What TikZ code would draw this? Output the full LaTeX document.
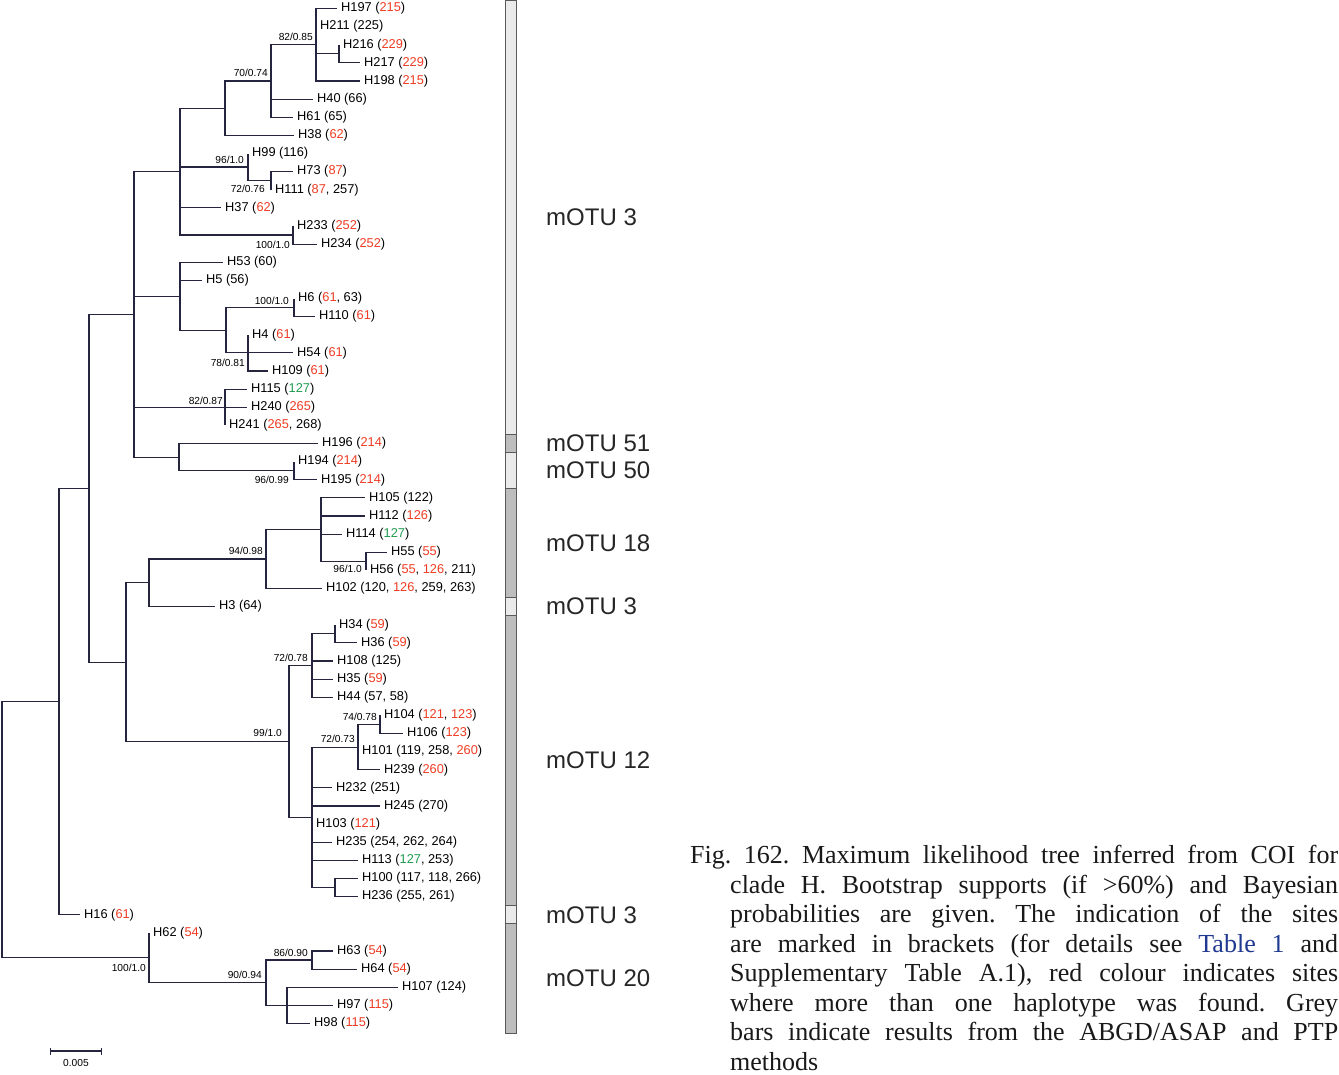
\documentclass[tikz,border=0pt]{standalone}
\usepackage{fontspec}
\setmainfont{Liberation Serif}
\setsansfont{Liberation Sans}
\usetikzlibrary{positioning,arrows.meta}

\definecolor{branch}{HTML}{25253F}
\definecolor{site}{HTML}{EE3B22}
\definecolor{siteg}{HTML}{1E9B4F}
\definecolor{tablink}{HTML}{1F3990}
\definecolor{barlight}{HTML}{EAEAEA}
\definecolor{bardark}{HTML}{BDBDBD}
\newcommand{\rd}[1]{\textcolor{site}{#1}}
\newcommand{\gn}[1]{\textcolor{siteg}{#1}}

\begin{document}
\begin{tikzpicture}[x=1pt,y=-1pt,
    br/.style={draw=branch,line width=1.2pt},
    tip/.style={anchor=west,inner sep=4pt,text=black,font=\sffamily\fontsize{12.8}{14}\selectfont},
    sup/.style={inner sep=0pt,text=black,font=\sffamily\fontsize{10.2}{11}\selectfont},
    motu/.style={anchor=west,inner sep=0pt,text=black!85,font=\sffamily\fontsize{24}{26}\selectfont},
    seg/.style={draw=black!65,line width=0.8pt}]
    \useasboundingbox (0,0) rectangle (1339,1074);

    \begin{scope}[y=-18.125pt,yshift=-8.5pt]
    % tips
    \node[tip] (h197) at (337,0) {H197 (\rd{215})};
    \node[tip] (h211) at (316,1) {H211 (225)};
    \node[tip] (h216) at (339,2) {H216 (\rd{229})};
    \node[tip] (h217) at (360,3) {H217 (\rd{229})};
    \node[tip] (h198) at (360,4) {H198 (\rd{215})};
    \node[tip] (h40) at (313,5) {H40 (66)};
    \node[tip] (h61) at (293,6) {H61 (65)};
    \node[tip] (h38) at (294,7) {H38 (\rd{62})};
    \node[tip] (h99) at (248,8) {H99 (116)};
    \node[tip] (h73) at (293,9) {H73 (\rd{87})};
    \node[tip] (h111) at (271,10) {H111 (\rd{87}, 257)};
    \node[tip] (h37) at (221,11) {H37 (\rd{62})};
    \node[tip] (h233) at (293,12) {H233 (\rd{252})};
    \node[tip] (h234) at (317,13) {H234 (\rd{252})};
    \node[tip] (h53) at (223,14) {H53 (60)};
    \node[tip] (h5) at (202,15) {H5 (56)};
    \node[tip] (h6) at (294,16) {H6 (\rd{61}, 63)};
    \node[tip] (h110) at (315,17) {H110 (\rd{61})};
    \node[tip] (h4) at (248,18) {H4 (\rd{61})};
    \node[tip] (h54) at (293,19) {H54 (\rd{61})};
    \node[tip] (h109) at (268,20) {H109 (\rd{61})};
    \node[tip] (h115) at (247,21) {H115 (\gn{127})};
    \node[tip] (h240) at (247,22) {H240 (\rd{265})};
    \node[tip] (h241) at (225,23) {H241 (\rd{265}, 268)};
    \node[tip] (h196) at (318,24) {H196 (\rd{214})};
    \node[tip] (h194) at (294,25) {H194 (\rd{214})};
    \node[tip] (h195) at (317,26) {H195 (\rd{214})};
    \node[tip] (h105) at (365,27) {H105 (122)};
    \node[tip] (h112) at (365,28) {H112 (\rd{126})};
    \node[tip] (h114) at (342,29) {H114 (\gn{127})};
    \node[tip] (h55) at (387,30) {H55 (\rd{55})};
    \node[tip] (h56) at (366,31) {H56 (\rd{55}, \rd{126}, 211)};
    \node[tip] (h102) at (322,32) {H102 (120, \rd{126}, 259, 263)};
    \node[tip] (h3) at (215,33) {H3 (64)};
    \node[tip] (h34) at (335,34) {H34 (\rd{59})};
    \node[tip] (h36) at (357,35) {H36 (\rd{59})};
    \node[tip] (h108) at (333,36) {H108 (125)};
    \node[tip] (h35) at (333,37) {H35 (\rd{59})};
    \node[tip] (h44) at (333,38) {H44 (57, 58)};
    \node[tip] (h104) at (380,39) {H104 (\rd{121}, \rd{123})};
    \node[tip] (h106) at (403,40) {H106 (\rd{123})};
    \node[tip] (h101) at (358,41) {H101 (119, 258, \rd{260})};
    \node[tip] (h239) at (380,42) {H239 (\rd{260})};
    \node[tip] (h232) at (332,43) {H232 (251)};
    \node[tip] (h245) at (380,44) {H245 (270)};
    \node[tip] (h103) at (312,45) {H103 (\rd{121})};
    \node[tip] (h235) at (332,46) {H235 (254, 262, 264)};
    \node[tip] (h113) at (358,47) {H113 (\gn{127}, 253)};
    \node[tip] (h100) at (358,48) {H100 (117, 118, 266)};
    \node[tip] (h236) at (358,49) {H236 (255, 261)};
    \node[tip] (h16) at (80,50) {H16 (\rd{61})};
    \node[tip] (h62) at (149,51) {H62 (\rd{54})};
    \node[tip] (h63) at (333,52) {H63 (\rd{54})};
    \node[tip] (h64) at (357,53) {H64 (\rd{54})};
    \node[tip] (h107) at (398,54) {H107 (124)};
    \node[tip] (h97) at (333,55) {H97 (\rd{115})};
    \node[tip] (h98) at (310,56) {H98 (\rd{115})};

    % inner nodes
    \coordinate (c216) at (339,2.5);
    \coordinate (c197) at (316,2);
    \coordinate (c40) at (271,4);
    \coordinate (c38) at (225,5.5);
    \coordinate (c73) at (271,9.5);
    \coordinate (c99) at (248,8.75);
    \coordinate (c233) at (293,12.5);
    \coordinate (c37) at (180,9);
    \coordinate (c6) at (294,16.5);
    \coordinate (c4) at (248,19);
    \coordinate (c6b) at (226,17.75);
    \coordinate (c53) at (180,15.875);
    \coordinate (c115) at (225,22);
    \coordinate (c194) at (294,25.5);
    \coordinate (c196) at (179,24.75);
    \coordinate (clA) at (134,16.875);
    \coordinate (c55) at (366,30.5);
    \coordinate (c105) at (321,28.75);
    \coordinate (c102) at (266,30.375);
    \coordinate (c3) at (149,31.6875);
    \coordinate (c34) at (335,34.5);
    \coordinate (c108) at (312,36.25);
    \coordinate (c104) at (380,39.5);
    \coordinate (c101) at (358,40.75);
    \coordinate (c100) at (335,48.5);
    \coordinate (c103) at (312,44.625);
    \coordinate (c12) at (289,40.4375);
    \coordinate (clB) at (126,36.0625);
    \coordinate (clC) at (89,26.47);
    \coordinate (c16) at (59,38.23);
    \coordinate (c63) at (312,52.5);
    \coordinate (c107) at (287,55);
    \coordinate (c64) at (266,53.75);
    \coordinate (c62) at (149,52.375);
    \coordinate (root) at (2,45.3);

    % branches
    \foreach \c in {h216,h217} \draw[br] (c216) |- (\c);
    \foreach \c in {h197,h211,c216,h198} \draw[br] (c197) |- (\c);
    \foreach \c in {c197,h40,h61} \draw[br] (c40) |- (\c);
    \foreach \c in {c40,h38} \draw[br] (c38) |- (\c);
    \foreach \c in {h73,h111} \draw[br] (c73) |- (\c);
    \foreach \c in {h99,c73} \draw[br] (c99) |- (\c);
    \foreach \c in {h233,h234} \draw[br] (c233) |- (\c);
    \foreach \c in {c38,c99,h37,c233} \draw[br] (c37) |- (\c);
    \foreach \c in {h6,h110} \draw[br] (c6) |- (\c);
    \foreach \c in {h4,h54,h109} \draw[br] (c4) |- (\c);
    \foreach \c in {c6,c4} \draw[br] (c6b) |- (\c);
    \foreach \c in {h53,h5,c6b} \draw[br] (c53) |- (\c);
    \foreach \c in {h115,h240,h241} \draw[br] (c115) |- (\c);
    \foreach \c in {h194,h195} \draw[br] (c194) |- (\c);
    \foreach \c in {h196,c194} \draw[br] (c196) |- (\c);
    \foreach \c in {c37,c53,c115,c196} \draw[br] (clA) |- (\c);
    \foreach \c in {h55,h56} \draw[br] (c55) |- (\c);
    \foreach \c in {h105,h112,h114,c55} \draw[br] (c105) |- (\c);
    \foreach \c in {c105,h102} \draw[br] (c102) |- (\c);
    \foreach \c in {c102,h3} \draw[br] (c3) |- (\c);
    \foreach \c in {h34,h36} \draw[br] (c34) |- (\c);
    \foreach \c in {c34,h108,h35,h44} \draw[br] (c108) |- (\c);
    \foreach \c in {h104,h106} \draw[br] (c104) |- (\c);
    \foreach \c in {c104,h101,h239} \draw[br] (c101) |- (\c);
    \foreach \c in {h100,h236} \draw[br] (c100) |- (\c);
    \foreach \c in {c101,h232,h245,h103,h235,h113,c100} \draw[br] (c103) |- (\c);
    \foreach \c in {c108,c103} \draw[br] (c12) |- (\c);
    \foreach \c in {c3,c12} \draw[br] (clB) |- (\c);
    \foreach \c in {clA,clB} \draw[br] (clC) |- (\c);
    \foreach \c in {clC,h16} \draw[br] (c16) |- (\c);
    \foreach \c in {h63,h64} \draw[br] (c63) |- (\c);
    \foreach \c in {h107,h97,h98} \draw[br] (c107) |- (\c);
    \foreach \c in {c63,c107} \draw[br] (c64) |- (\c);
    \foreach \c in {h62,c64} \draw[br] (c62) |- (\c);
    \foreach \c in {c16,c62} \draw[br] (root) |- (\c);

    % supports
    \node[sup, above left=4pt and 3pt of c197] (s197) {82/0.85};
    \node[sup, above left=4.5pt and 3pt of c40] (s40) {70/0.74};
    \node[sup, above left=3.5pt and 4pt of c99] (s99) {96/1.0};
    \node[sup, below left=4pt and 6pt of c73] (s73) {72/0.76};
    \node[sup, below left=6pt and 3pt of c233] (s233) {100/1.0};
    \node[sup, above left=3pt and 5pt of c6] (s6) {100/1.0};
    \node[sup, below left=6pt and 3pt of c4] (s4) {78/0.81};
    \node[sup, above left=2.5pt and 2pt of c115] (s115) {82/0.87};
    \node[sup, below left=5pt and 5pt of c194] (s194) {96/0.99};
    \node[sup, above left=4.5pt and 3pt of c102] (s102) {94/0.98};
    \node[sup, below left=4pt and 4pt of c55] (s55) {96/1.0};
    \node[sup, above left=4pt and 4pt of c108] (s108) {72/0.78};
    \node[sup, above left=4pt and 3pt of c104] (s104) {74/0.78};
    \node[sup, above left=5pt and 7pt of c12] (s12) {99/1.0};
    \node[sup, above left=4.5pt and 3pt of c101] (s101) {72/0.73};
    \node[sup, below left=6pt and 3pt of c62] (s62) {100/1.0};
    \node[sup, above left=4pt and 4pt of c64] (s64) {90/0.94};
    \node[sup, above left=3.5pt and 4pt of c63] (s63) {86/0.90};

    % delimitation bar
    \foreach \a/\b/\f/\t [count=\i] in {-0.47/23.5/barlight/3, 23.5/24.5/bardark/51,
        24.5/26.5/barlight/50, 26.5/32.5/bardark/18, 32.5/33.5/barlight/3,
        33.5/49.5/bardark/12, 49.5/50.5/barlight/3, 50.5/56.55/bardark/20} {
      \draw[seg, fill=\f] (505,\a) rectangle (516,\b);
      \node[motu] (motu\i) at (546,{(\a+\b)/2}) {mOTU \t};
    }
    \end{scope}

    % scale
    \coordinate (sb0) at (50,1051);
    \coordinate (sb1) at (102,1051);
    \draw[br, {Bar[width=7pt]}-{Bar[width=7pt]}] (sb0) -- (sb1);
    \node[sup] (sbl) at (76,1063) {0.005};

    % caption
    \node[anchor=north west, inner sep=0pt, text width=648pt, align=justify,
          text=black!90, font=\fontsize{26}{29.5}\selectfont] (cap) at (690,845)
      {\frenchspacing\hangindent=40pt\hangafter=1
       Fig. 162. Maximum likelihood tree inferred from COI for\linebreak
       clade H. Bootstrap supports (if >60\%) and Bayesian\linebreak
       probabilities are given. The indication of the sites\linebreak
       are marked in brackets (for details see \textcolor{tablink}{Table~1} and\linebreak
       Supplementary Table A.1), red colour indicates sites\linebreak
       where more than one haplotype was found. Grey\linebreak
       bars indicate results from the ABGD/ASAP and PTP\linebreak
       methods\par};
\end{tikzpicture}
\end{document}
